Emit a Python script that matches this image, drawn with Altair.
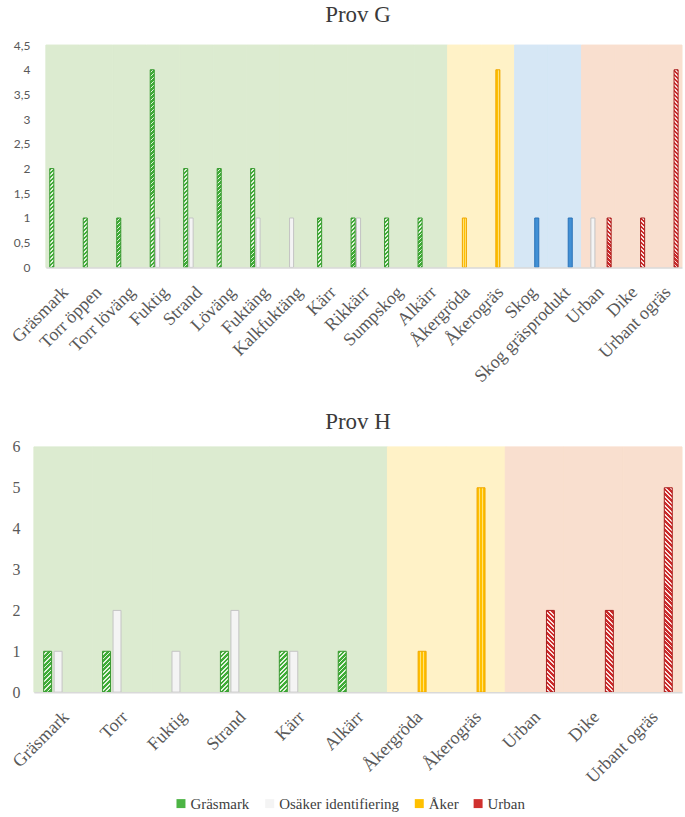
import altair as alt
import pandas as pd

# ---------------- data ----------------
cats_g = ["Gräsmark", "Torr öppen", "Torr löväng", "Fuktig", "Strand", "Löväng",
          "Fuktäng", "Kalkfuktäng", "Kärr", "Rikkärr", "Sumpskog", "Alkärr",
          "Åkergröda", "Åkerogräs", "Skog", "Skog gräsprodukt", "Urban", "Dike",
          "Urbant ogräs"]
zone_g = ["Gräsmark"] * 12 + ["Åker"] * 2 + ["Skog"] * 2 + ["Urban"] * 3
gras_g = [2, 1, 1, 4, 2, 2, 2, 0, 1, 1, 1, 1, 0, 0, 0, 0, 0, 0, 0]
osak_g = [0, 0, 0, 1, 1, 0, 1, 1, 0, 1, 0, 0, 0, 0, 0, 0, 1, 0, 0]
aker_g = [0, 0, 0, 0, 0, 0, 0, 0, 0, 0, 0, 0, 1, 4, 0, 0, 0, 0, 0]
skog_g = [0, 0, 0, 0, 0, 0, 0, 0, 0, 0, 0, 0, 0, 0, 1, 1, 0, 0, 0]
urban_g = [0, 0, 0, 0, 0, 0, 0, 0, 0, 0, 0, 0, 0, 0, 0, 0, 1, 1, 4]

cats_h = ["Gräsmark", "Torr", "Fuktig", "Strand", "Kärr", "Alkärr",
          "Åkergröda", "Åkerogräs", "Urban", "Dike", "Urbant ogräs"]
zone_h = ["Gräsmark"] * 6 + ["Åker"] * 2 + ["Urban"] * 3
gras_h = [1, 1, 0, 1, 1, 1, 0, 0, 0, 0, 0]
osak_h = [1, 2, 1, 2, 1, 0, 0, 0, 0, 0, 0]
aker_h = [0, 0, 0, 0, 0, 0, 1, 5, 0, 0, 0]
urban_h = [0, 0, 0, 0, 0, 0, 0, 0, 2, 2, 5]

series_all = ["Gräsmark", "Osäker identifiering", "Åker", "Skog", "Urban"]
series_h = ["Gräsmark", "Osäker identifiering", "Åker", "Urban"]
legend_series = ["Gräsmark", "Osäker identifiering", "Åker", "Urban"]

ticks_g = [0, 0.5, 1, 1.5, 2, 2.5, 3, 3.5, 4, 4.5]
ticks_h = [0, 1, 2, 3, 4, 5, 6]

# ---------------- styles ----------------
fills = ["#4cb444", "#f4f4f4", "#ffc000", "#4190d5", "#d0302e"]
strokes = ["#37992f", "#c4c4c4", "#f0a800", "#2a72b8", "#a81e1e"]
zone_colors = {"Gräsmark": "#dcebd0", "Åker": "#fff2c7",
               "Skog": "#d6e7f5", "Urban": "#f9dfcf"}
SERIF = "Liberation Serif"
LABEL_COLOR = "#595959"


def diag_gradient(w, h, base, light, period, light_frac, slash):
    """Diagonal hatch imitation with a bbox-relative linear gradient."""
    span = w + h * h / w
    total = w + h
    stops = []
    s = 0.0
    while s < total + period:
        a = s + period * (1 - light_frac)
        e = s + period
        for off, col in ((s, base), (a, base), (a, light), (e, light)):
            stops.append({"offset": min(off / span, 1.0), "color": col})
        s = e
    if slash:
        return {"gradient": "linear", "x1": 0, "y1": 0, "x2": 1, "y2": h / w,
                "stops": stops}
    return {"gradient": "linear", "x1": 0, "y1": 1, "x2": 1, "y2": 1 - h / w,
            "stops": stops}


def stripe_gradient(base, light):
    cuts = [0, 0.22, 0.4, 0.6, 0.78, 1]
    stops = []
    for i in range(5):
        col = base if i % 2 == 0 else light
        stops.append({"offset": cuts[i], "color": col})
        stops.append({"offset": cuts[i + 1], "color": col})
    return {"gradient": "linear", "x1": 0, "y1": 0, "x2": 1, "y2": 0,
            "stops": stops}


def panel(cats, zones, names, values, ymax, ticks, width, height, xrange,
          title, title_offset, ylab_font, ylab_size, ylab_pad,
          off_inner, off_outer, period):
    rows = []
    for name, vals in zip(names, values):
        for c, v in zip(cats, vals):
            if v > 0:
                rows.append({"cat": c, "series": name, "value": v})
    bars_df = pd.DataFrame(rows)
    bg_df = pd.DataFrame({"cat": cats,
                          "bg": [zone_colors[z] for z in zones],
                          "top": [ymax] * len(cats),
                          "zero": [0] * len(cats)})

    # pixel size of one bar (for the hatch imitation)
    step = (xrange[1] - xrange[0]) / len(cats)
    sub = step / (len(names) - off_inner + 2 * off_outer)
    bar_w = sub * (1 - off_inner)
    conds = []
    for v in sorted(set(bars_df["value"])):
        h = height * v / ymax
        conds.append({"test": f"datum.series === 'Gräsmark' && datum.value === {v}",
                      "value": diag_gradient(bar_w, h, "#3fac37", "#e4f3de",
                                             period, 0.4, True)})
        conds.append({"test": f"datum.series === 'Urban' && datum.value === {v}",
                      "value": diag_gradient(bar_w, h, "#cc2a2a", "#fbe2df",
                                             period, 0.4, False)})
    conds.append({"test": "datum.series === 'Åker'",
                  "value": stripe_gradient("#ffc000", "#ffe27a")})

    xscale = alt.Scale(domain=cats, paddingInner=0, paddingOuter=0, range=xrange)
    yscale = alt.Scale(domain=[0, ymax], nice=False)
    xaxis = alt.Axis(title=None, labelAngle=-45, labelAlign="right",
                     labelBaseline="middle", labelFont=SERIF, labelFontSize=18,
                     labelColor=LABEL_COLOR, ticks=False, domainColor="#d9d9d9",
                     domainWidth=1.5, labelPadding=22, labelOffset=3,
                     labelOverlap=False, labelBound=False)
    yaxis = alt.Axis(title=None, values=ticks, grid=False, domain=False,
                     ticks=False, labelPadding=ylab_pad, labelFont=ylab_font,
                     labelFontSize=ylab_size, labelColor=LABEL_COLOR,
                     labelOverlap=False,
                     labelExpr="replace(toString(datum.value), '.', ',')")

    bg = alt.Chart(bg_df).mark_rect(strokeWidth=1).encode(
        x=alt.X("cat:N", scale=xscale, axis=xaxis, sort=cats),
        y=alt.Y("top:Q", scale=yscale, axis=yaxis),
        y2="zero:Q",
        fill=alt.Fill("bg:N", scale=None),
        stroke=alt.Stroke("bg:N", scale=None),
    )
    bars = alt.Chart(bars_df).mark_bar(strokeWidth=1).encode(
        x=alt.X("cat:N", scale=xscale, axis=xaxis, sort=cats),
        xOffset=alt.XOffset("series:N",
                            scale=alt.Scale(domain=names, paddingInner=off_inner,
                                            paddingOuter=off_outer)),
        y=alt.Y("value:Q", scale=yscale, axis=yaxis),
        color=alt.Color("series:N",
                        scale=alt.Scale(domain=series_all, range=fills),
                        condition=conds,
                        legend=alt.Legend(title=None, values=legend_series,
                                          labelFont=SERIF, labelFontSize=15,
                                          labelColor="#404040")),
        stroke=alt.Stroke("series:N",
                          scale=alt.Scale(domain=series_all, range=strokes),
                          legend=None),
    )
    return alt.layer(bg, bars).resolve_scale(stroke="independent").properties(
        width=width, height=height,
        title=alt.Title(title, font=SERIF, fontSize=23, fontWeight="normal",
                        color="#3a3a3a", offset=title_offset, anchor="middle"),
    )


top = panel(cats_g, zone_g, series_all,
            [gras_g, osak_g, aker_g, skog_g, urban_g],
            4.5, ticks_g, 650, 223, [12, 650], "Prov G", 12, "Lato", 12, 4,
            0.25, 0.72, 4.0)
bottom = panel(cats_h, zone_h, series_h,
               [gras_h, osak_h, aker_h, urban_h],
               6, ticks_h, 650, 246, [0, 650], "Prov H", 5, SERIF, 16, 14,
               0.24, 0.93, 4.5)

chart = alt.concat(top, bottom, columns=1, spacing=25).resolve_scale(
    x="independent", y="independent", xOffset="independent",
    color="shared",
).configure_view(stroke=None).configure_legend(
    orient="none", legendX=140, legendY=753, direction="horizontal",
    labelFont=SERIF, labelFontSize=15,
    labelColor="#404040", symbolType="square", symbolSize=81,
    columnPadding=12, symbolStrokeWidth=0, labelOffset=2,
).properties(padding={"left": 8, "right": 2, "top": 3, "bottom": 5})

chart.save("out.html", embed_options={"renderer": "svg", "actions": False})
